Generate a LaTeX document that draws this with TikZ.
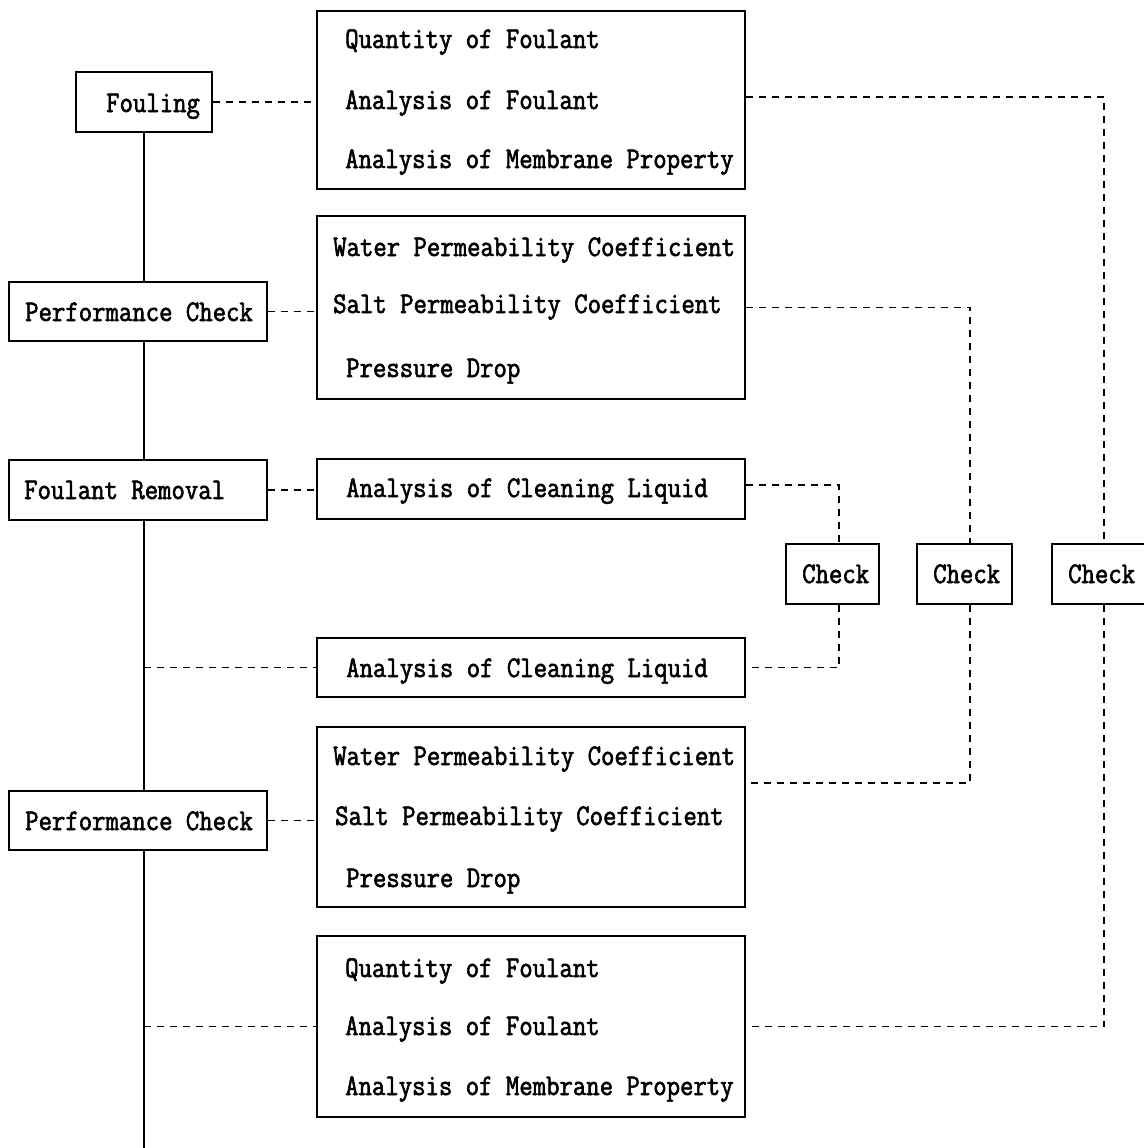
\documentclass[tikz,border=0pt]{standalone}
\usepackage{fontspec}
\newfontfamily\figfont[FakeStretch=0.867,FakeBold=2]{Latin Modern Mono}
\begin{document}
\begin{tikzpicture}[x=1pt,y=-1pt,
  bx/.style 2 args={draw, line width=1.6pt, inner sep=0pt, minimum width=#1pt, minimum height=#2pt},
  txt/.style={anchor=base west, inner sep=0pt, font=\figfont\fontsize{30}{36}\selectfont},
  dsh/.style={line width=1.7pt, dash pattern=on 7pt off 6pt},
  mainln/.style={line width=2.4pt}]
\useasboundingbox[fill=white] (0,0) rectangle (1143,1148);
% left boxes
\node[bx={136}{60}] (fouling) at (144,102) {};
\node[bx={258}{59}] (perf1) at (138,311.5) {};
\node[bx={258}{60}] (remov) at (138,490) {};
\node[bx={258}{59}] (perf2) at (138,820.5) {};
\node[txt] (tfouling) at (106,112) {Fouling};
\node[txt] (tperf1) at (25,321) {Performance Check};
\node[txt] (tremov) at (24,499) {Foulant Removal};
\node[txt] (tperf2) at (25,830) {Performance Check};
% right boxes
\node[bx={428}{178}] (b1) at (531,100) {};
\node[bx={428}{183}] (b2) at (531,307.5) {};
\node[bx={428}{60}] (b3) at (531,489) {};
\node[bx={428}{59}] (b4) at (531,667.5) {};
\node[bx={428}{180}] (b5) at (531,817) {};
\node[bx={428}{181}] (b6) at (531,1026.5) {};
\node[txt] (t1a) at (345,48) {Quantity of Foulant};
\node[txt] (t1b) at (345,109) {Analysis of Foulant};
\node[txt] (t1c) at (345,168) {Analysis of Membrane Property};
\node[txt] (t2a) at (333,256) {Water Permeability Coefficient};
\node[txt] (t2b) at (333,313) {Salt Permeability Coefficient};
\node[txt] (t2c) at (346,377) {Pressure Drop};
\node[txt] (t3a) at (346,497) {Analysis of Cleaning Liquid};
\node[txt] (t4a) at (346,677) {Analysis of Cleaning Liquid};
\node[txt] (t5a) at (333,765) {Water Permeability Coefficient};
\node[txt] (t5b) at (335,825) {Salt Permeability Coefficient};
\node[txt] (t5c) at (346,887) {Pressure Drop};
\node[txt] (t6a) at (345,977) {Quantity of Foulant};
\node[txt] (t6b) at (345,1035) {Analysis of Foulant};
\node[txt] (t6c) at (345,1095) {Analysis of Membrane Property};
% check boxes
\node[bx={93}{60}] (c1) at (832.5,574) {};
\node[bx={95}{60}] (c2) at (964.5,574) {};
\node[bx={94}{60}] (c3) at (1099,574) {};
\node[txt] (tc1) at (802,583) {Check};
\node[txt] (tc2) at (933,583) {Check};
\node[txt] (tc3) at (1068,583) {Check};
% helper coordinates
\coordinate (m) at (144,0);
\coordinate (mbot) at (144,1148);
\coordinate (v1) at (839,0);
\coordinate (v2) at (970,0);
\coordinate (v3) at (1104,0);
\coordinate (e1) at ([yshift=3pt]b1.east);
\coordinate (e3) at ([yshift=4pt]b3.east);
\coordinate (e5) at ([yshift=34pt]b5.east);
% main line
\draw[mainln] (m |- fouling.south) -- (m |- perf1.north);
\draw[mainln] (m |- perf1.south) -- (m |- remov.north);
\draw[mainln] (m |- remov.south) -- (m |- perf2.north);
\draw[mainln] (m |- perf2.south) -- (mbot);
% left dashed connectors
\draw[dsh] (fouling.east) -- (b1.west |- fouling.east);
\draw[dsh] (perf1.east) -- (b2.west |- perf1.east);
\draw[dsh] (remov.east) -- (b3.west |- remov.east);
\draw[dsh] (m |- b4.west) -- (b4.west);
\draw[dsh] (perf2.east) -- (b5.west |- perf2.east);
\draw[dsh] (m |- b6.west) -- (b6.west);
% right dashed connectors
\draw[dsh] (e1) -- (v3 |- e1) -- (v3 |- c3.north);
\draw[dsh] (v3 |- c3.south) -- (v3 |- b6.east) -- (b6.east);
\draw[dsh] (b2.east) -- (v2 |- b2.east) -- (v2 |- c2.north);
\draw[dsh] (v2 |- c2.south) -- (v2 |- e5) -- (e5);
\draw[dsh] (e3) -- (v1 |- e3) -- (v1 |- c1.north);
\draw[dsh] (v1 |- c1.south) -- (v1 |- b4.east) -- (b4.east);
\end{tikzpicture}
\end{document}
